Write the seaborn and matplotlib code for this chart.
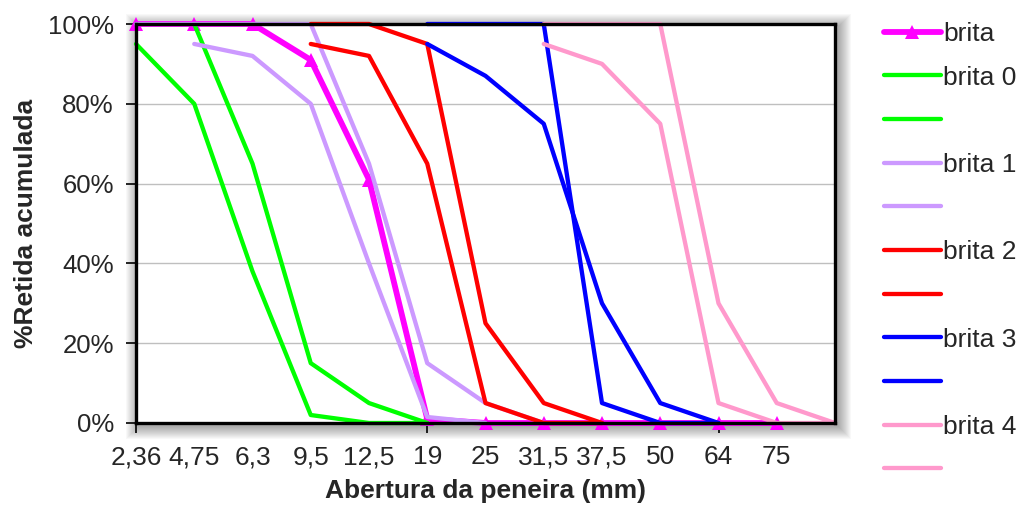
import matplotlib
matplotlib.use("Agg")
import matplotlib.pyplot as plt
from matplotlib.lines import Line2D
from matplotlib.patches import Rectangle
import pandas as pd
import seaborn as sns

# Sieve openings (mm); the last position is an unlabeled end point
aberturas = ["2,36", "4,75", "6,3", "9,5", "12,5", "19", "25", "31,5", "37,5", "50", "64", "75", ""]

# Cumulative retained (%) per sieve; None where a curve has no point
brita = [100, 100, 100, 91, 61, 1, 0, 0, 0, 0, 0, 0, None]
brita0_inf = [95, 80, 38, 2, 0, 0, None, None, None, None, None, None, None]
brita0_sup = [None, 100, 65, 15, 5, 0, None, None, None, None, None, None, None]
brita1_inf = [None, 95, 92, 80, 40, 1.5, 0, None, None, None, None, None, None]
brita1_sup = [100, 100, 100, 100, 65, 15, 5, 0, None, None, None, None, None]
brita2_inf = [None, None, None, 95, 92, 65, 5, 0, 0, None, None, None, None]
brita2_sup = [None, None, None, 100, 100, 95, 25, 5, 0, None, None, None, None]
brita3_inf = [None, None, None, None, None, 95, 87, 75, 30, 5, 0, None, None]
brita3_sup = [None, None, None, None, None, 100, 100, 100, 5, 0, 0, None, None]
brita4_inf = [None, None, None, None, None, None, None, 95, 90, 75, 5, 0, 0]
brita4_sup = [None, None, None, None, None, None, None, 100, 100, 100, 30, 5, 0]

y_ticks = [0, 20, 40, 60, 80, 100]
y_labels = ["0%", "20%", "40%", "60%", "80%", "100%"]

series = [
    ("brita 0", brita0_inf, "#00FF00"),
    ("", brita0_sup, "#00FF00"),
    ("brita 1", brita1_inf, "#CC99FF"),
    ("", brita1_sup, "#CC99FF"),
    ("brita 2", brita2_inf, "#FF0000"),
    ("", brita2_sup, "#FF0000"),
    ("brita 3", brita3_inf, "#0000FF"),
    ("", brita3_sup, "#0000FF"),
    ("brita 4", brita4_inf, "#FF99CC"),
    ("", brita4_sup, "#FF99CC"),
]

sns.set_theme(style="white")
plt.rcParams["font.family"] = ["Liberation Sans", "DejaVu Sans"]

W, H = 1021, 507
fig = plt.figure(figsize=(W / 100, H / 100), dpi=100)
x0, x1, y0, y1 = 136, 835, 24, 423
ax = fig.add_axes([x0 / W, 1 - y1 / H, (x1 - x0) / W, (y1 - y0) / H])

# soft shadow around the plot frame
for k in range(1, 14):
    fig.patches.append(Rectangle(
        ((x0 - k + 3) / W, 1 - (y1 + k + 3) / H),
        (x1 - x0 + 2 * k) / W, (y1 - y0 + 2 * k) / H,
        transform=fig.transFigure, facecolor="black", edgecolor="none",
        alpha=0.026, zorder=0))

ax.set_facecolor("white")
ax.set_zorder(1)

LW = 3.1
LW_MAIN = 4.2


def to_frame(values):
    idx = [i for i, v in enumerate(values) if v is not None]
    return pd.DataFrame({"x": idx, "y": [values[i] for i in idx]})


# target curve with triangle markers, drawn underneath the limit curves
df = to_frame(brita)
sns.lineplot(data=df, x="x", y="y", ax=ax, color="#FF00FF", linewidth=LW_MAIN,
             marker="^", markersize=10.5, markeredgewidth=0, sort=False,
             clip_on=False, zorder=2, legend=False)

for name, vals, col in series:
    df = to_frame(vals)
    sns.lineplot(data=df, x="x", y="y", ax=ax, color=col, linewidth=LW,
                 sort=False, clip_on=False, zorder=3, legend=False)

ax.set_xlim(0, 12)
ax.set_ylim(0, 100)

# y axis
ax.set_yticks(y_ticks)
ax.set_yticklabels(y_labels, fontsize=18.5)
ax.yaxis.grid(True, color="#BFBFBF", linewidth=1.0)
ax.set_axisbelow(True)

# x axis: labels at every sieve, tick marks every five positions
ax.xaxis.remove_overlapping_locs = False
ax.set_xticks(range(len(aberturas)))
ax.set_xticklabels(aberturas, fontsize=19)
ax.set_xticks([0, 5, 10], minor=True)
ax.tick_params(axis="x", which="major", length=0, pad=16, bottom=True)
ax.tick_params(axis="x", which="minor", length=7, width=1.2, color="black",
               direction="out", bottom=True)
ax.tick_params(axis="y", which="major", length=7, width=1.2, color="black",
               direction="out", left=True, pad=9)

for s in ax.spines.values():
    s.set_visible(True)
    s.set_color("black")
    s.set_linewidth(2.4)
    s.set_zorder(4)

ax.set_xlabel("Abertura da peneira (mm)", fontsize=19, fontweight="bold",
              labelpad=7)
ax.set_ylabel("%Retida acumulada", fontsize=19, fontweight="bold",
              labelpad=7)

# legend on the right
handles = [Line2D([], [], color="#FF00FF", linewidth=LW_MAIN, marker="^",
                  markersize=10.5, markeredgewidth=0)]
labels = ["brita"]
for name, vals, col in series:
    handles.append(Line2D([], [], color=col, linewidth=LW))
    labels.append(name)
fig.legend(handles, labels, loc="upper left", bbox_to_anchor=(884 / W, 1 - 22 / H),
           frameon=False, fontsize=19, handlelength=2.15, handletextpad=0.1,
           labelspacing=0.745, borderaxespad=0, borderpad=0)

fig.savefig("out.png", dpi=100)
